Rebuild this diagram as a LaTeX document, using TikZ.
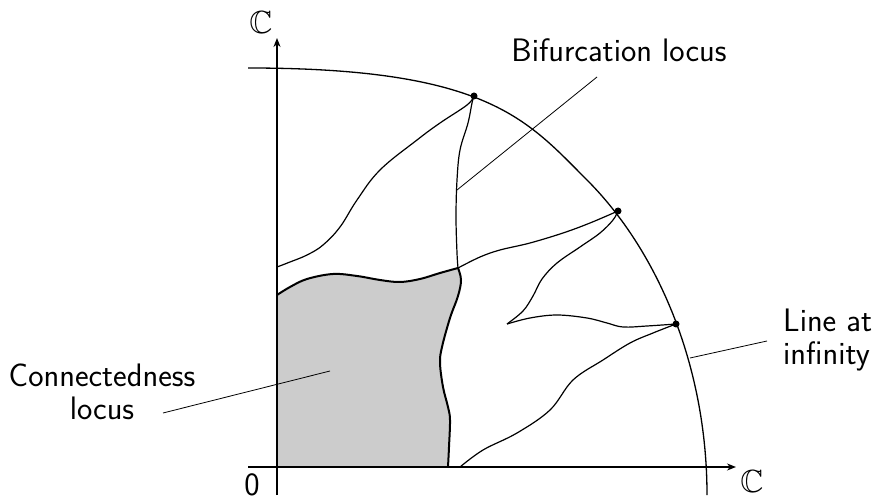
\documentclass[tikz,border=0pt]{standalone}
\usepackage{amssymb}
\usetikzlibrary{arrows.meta}
\begin{document}
\begin{tikzpicture}[x=1pt,y=-1pt,
  axis/.style={line width=1.5pt,-{Stealth[length=9pt,width=7pt]}},
  curve/.style={line width=1.2pt,line join=round},
  border/.style={line width=2pt,line join=round},
  leader/.style={line width=0.8pt},
  lbl/.style={font=\fontsize{32.5}{33}\selectfont\sffamily,inner sep=0pt},
  cc/.style={font=\fontsize{32}{34}\selectfont,inner sep=0pt},
  dot/.style={circle,fill=black,inner sep=0pt,minimum size=7pt}]
\useasboundingbox (0,0) rectangle (875,502);
% key points
\coordinate (O) at (277,467);
\coordinate (xs) at (248,467);
\coordinate (xe) at (736,467);
\coordinate (ys) at (277,495);
\coordinate (ye) at (277,38);
% gray connectedness locus
\fill[gray!40] (O) -- plot[smooth,tension=0.6] coordinates {(277,295) (290,287) (307,279) (333,274) (357,276) (380,280) (400,282) (420,279) (440,273) (458,268)}
  -- plot[smooth,tension=0.6] coordinates {(458,268) (461,280) (458,296) (450,318) (442,347) (440,363) (443,387) (448,407) (450,420) (449,447) (448,467)} -- cycle;
% axes
\draw[axis] (xs) -- (xe);
\draw[axis] (ys) -- (ye);
% line at infinity
\coordinate (a0) at (248,68);
\coordinate (am) at (587,180);
\coordinate (a1) at (707,495);
\draw[line width=1.3pt] (a0) .. controls (488,68) and (527,120) .. (am) .. controls (657,250) and (707,365) .. (a1);
% border of connectedness locus
\draw[border] plot[smooth,tension=0.6] coordinates {(277,295) (290,287) (307,279) (333,274) (357,276) (380,280) (400,282) (420,279) (440,273) (458,268)};
\draw[border] plot[smooth,tension=0.6] coordinates {(458,268) (461,280) (458,296) (450,318) (442,347) (440,363) (443,387) (448,407) (450,420) (449,447) (448,467)};
% points on the line at infinity
\node[dot] (p1) at (474,96) {};
\node[dot] (p2) at (618,211) {};
\node[dot] (p3) at (676,324) {};
% bifurcation curves
\draw[curve] plot[smooth,tension=0.65] coordinates {(277,267) (290,262) (307,255) (323,245) (340,227) (357,200) (380,170) (417,140) (440,123) (467,105) (474,96)};
\draw[curve] plot[smooth,tension=0.6] coordinates {(474,96) (472,103) (468,123) (460,150) (457,180) (456,217) (457,253) (458,268)};
\draw[curve] plot[smooth,tension=0.6] coordinates {(458,268) (480,257) (500,250) (530,243) (563,233) (590,223) (618,211)};
\draw[curve] plot[smooth,tension=0.6] coordinates {(618,211) (613,220) (600,233) (580,247) (557,263) (542,279) (533,296) (523,311) (507,324)};
\draw[curve] plot[smooth,tension=0.6] coordinates {(507,324) (530,318) (557,315) (587,318) (607,323) (623,327) (647,326) (676,324)};
\draw[curve] plot[smooth,tension=0.6] coordinates {(676,324) (653,333) (630,343) (603,360) (573,380) (550,410) (517,433) (483,450) (460,467)};
% labels
\node[cc] (cy) at (261,22) {$\mathbb{C}$};
\node[cc] (cx) at (752,481) {$\mathbb{C}$};
\node[lbl] (zero) at (252,485) {0};
\node[lbl,anchor=base] (bif) at (619,62) {Bifurcation locus};
\node[lbl,align=left,anchor=west] (inf) at (783,340) {Line at\\infinity};
\node[lbl,align=center] (con) at (102,392) {Connectedness\\locus};
% leaders
\coordinate (bifA) at (457,190);
\coordinate (bifB) at (597,77);
\coordinate (infA) at (690,358);
\coordinate (infB) at (767,341);
\coordinate (conA) at (330,371);
\coordinate (conB) at (163,413);
\draw[leader] (bifA) -- (bifB);
\draw[leader] (infA) -- (infB);
\draw[leader] (conA) -- (conB);
\end{tikzpicture}
\end{document}
